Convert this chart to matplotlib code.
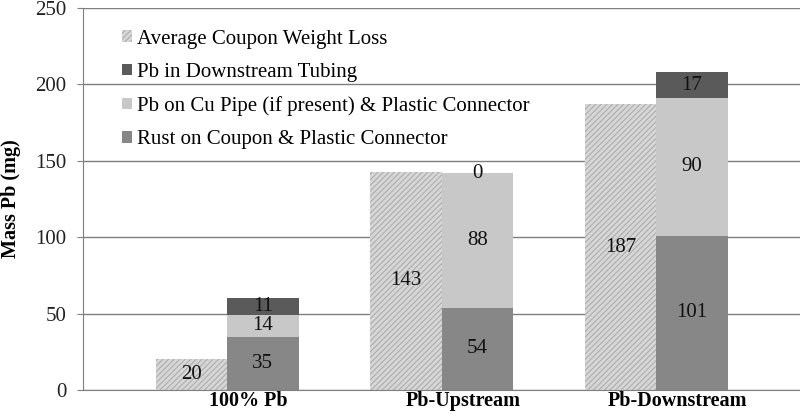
import numpy as np
import matplotlib
matplotlib.use("Agg")
import matplotlib.pyplot as plt

plt.rcParams['font.family'] = ['Liberation Serif', 'DejaVu Serif']
plt.rcParams['hatch.linewidth'] = 0.7

# -------- DATA --------
categorias = ['100% Pb', 'Pb-Upstream', 'Pb-Downstream']
perda_media = [20, 143, 187]          # Average Coupon Weight Loss
ferrugem = [35, 54, 101]              # Rust on Coupon & Plastic Connector
pb_cu = [14, 88, 90]                  # Pb on Cu Pipe (if present) & Plastic Connector
pb_tubo = [11, 0, 17]                 # Pb in Downstream Tubing

# -------- FIGURE --------
fig = plt.figure(figsize=(8, 4.15), dpi=100)
ax = fig.add_axes([0.104, 0.0602, 0.896, 0.9205])

x = np.arange(len(categorias))
w = 1 / 3

b0 = ax.bar(x - w / 2, perda_media, w, color='#d6d6d6', edgecolor='#a8a8a8',
            hatch='//////', linewidth=0, label='Average Coupon Weight Loss', zorder=2)
b1 = ax.bar(x + w / 2, ferrugem, w, color='#878787', linewidth=0,
            label='Rust on Coupon & Plastic Connector', zorder=2)
b2 = ax.bar(x + w / 2, pb_cu, w, bottom=ferrugem, color='#c8c8c8', linewidth=0,
            label='Pb on Cu Pipe (if present) & Plastic Connector', zorder=2)
base3 = np.array(ferrugem) + np.array(pb_cu)
b3 = ax.bar(x + w / 2, pb_tubo, w, bottom=base3, color='#5a5a5a', linewidth=0,
            label='Pb in Downstream Tubing', zorder=2)

for barras in (b0, b1, b2, b3):
    ax.bar_label(barras, label_type='center', fontsize=15, color='#111111')

ax.set_ylim(0, 250)
ax.set_xlim(-0.671, 2.671)
ax.set_yticks(range(0, 251, 50))
ax.yaxis.grid(True, color='#7f7f7f', linewidth=1)
ax.set_axisbelow(True)

ax.set_xticks(x + 0.1)
ax.set_xticklabels(categorias, fontweight='bold', fontsize=14.5)
ax.tick_params(axis='x', length=0, pad=1)
ax.tick_params(axis='y', labelsize=15, color='#7f7f7f', length=4, pad=8, labelcolor='#222222')

for lado in ['top', 'right']:
    ax.spines[lado].set_visible(False)
ax.spines['left'].set_color('#7f7f7f')
ax.spines['bottom'].set_color('#7f7f7f')

ax.set_ylabel('Mass Pb (mg)', fontweight='bold', fontsize=14.5, labelpad=10)

ax.legend(handles=[b0, b3, b2, b1], loc='upper left', bbox_to_anchor=(0.042, 0.965),
          frameon=False, fontsize=15, handlelength=0.5, handleheight=0.5,
          handletextpad=0.25, labelspacing=0.68, borderaxespad=0)

fig.savefig('out.png', dpi=100)
